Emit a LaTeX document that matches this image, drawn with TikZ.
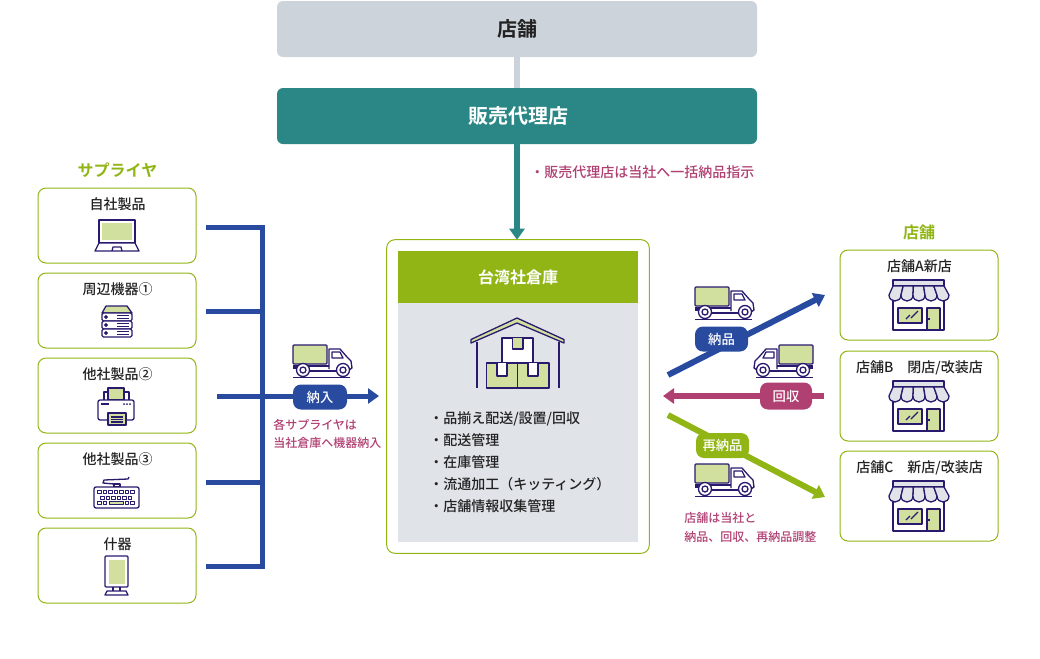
\documentclass[tikz,border=0pt]{standalone}
\usepackage{fontspec}
\setmainfont{Noto Sans CJK JP Medium}[BoldFont={Noto Sans CJK JP Bold}]
\usetikzlibrary{arrows.meta}
\def\px{0.75pt}
\definecolor{shopgray}{HTML}{CDD3DB}
\definecolor{dealerteal}{HTML}{2A8785}
\definecolor{leafgreen}{HTML}{90B514}
\definecolor{palegray}{HTML}{E0E4E9}
\definecolor{barblue}{HTML}{284BA0}
\definecolor{backred}{HTML}{B03F72}
\definecolor{iconnavy}{HTML}{2A1A6E}
\definecolor{iconfill}{HTML}{D2E09F}
\definecolor{inktext}{HTML}{222222}
\tikzstyle{wide}=[rectangle,rounded corners=6*\px,minimum width=480*\px,minimum height=56*\px,inner sep=0pt,font=\bfseries\fontsize{15}{18}\selectfont]
\tikzstyle{itembox}=[rectangle,draw=leafgreen,line width=1*\px,rounded corners=8*\px,minimum width=158*\px,inner sep=0pt]
\tikzstyle{boxlabel}=[inner sep=0pt,text=inktext,text height=8.75pt,text depth=1.25pt,font=\fontsize{10.5}{12}\selectfont]
\tikzstyle{grouplabel}=[inner sep=0pt,text=leafgreen,font=\bfseries\fontsize{12}{14}\selectfont]
\tikzstyle{note}=[inner sep=0pt,anchor=west,text=backred,text height=8.75pt,text depth=1.25pt,font=\fontsize{9}{11}\selectfont]
\tikzstyle{listline}=[inner sep=0pt,anchor=west,text=inktext,text height=8.75pt,text depth=1.25pt,font=\fontsize{10.5}{12}\selectfont]
\tikzstyle{pill}=[rectangle,rounded corners=8*\px,minimum height=25*\px,inner sep=0pt,text=white,font=\fontsize{10}{12}\selectfont]
\tikzstyle{bar}=[draw,line width=5*\px]
\tikzstyle{edge}=[draw,line width=6*\px,-{Triangle[length=11*\px,width=15*\px]}]
\tikzstyle{icon}=[draw=iconnavy,line width=1.3*\px,line join=round]
\tikzset{
  truckicon/.pic={
    \draw[icon,fill=iconfill,rounded corners=1*\px] (0,0) rectangle (34,19);
    \draw[icon,fill=white] (36,24) -- (36,4) -- (47,4) -- (54,12) -- (58,16) -- (59,23) -- (56,25);
    \draw[icon] (39,7) -- (47,7) -- (50,13) -- (39,13) -- cycle;
    \draw[icon] (0,23) -- (4,23) (16,26) -- (44,26) (36,21) -- (0,21);
    \foreach \wx in {10,50} {
      \draw[icon,fill=white] (\wx,25) circle [radius=6.5];
      \draw[icon,fill=white] (\wx,25) circle [radius=3];
    }
    \draw[icon] (0,32.5) -- (57,32.5);
  },
  shopicon/.pic={
    \draw[icon,fill=white] (4,16) rectangle (55,50);
    \draw[icon,fill=palegray] (4,0) rectangle (55,6);
    \foreach \ia/\ib/\ba/\bb in {4/14.2/0/12,14.2/24.4/12/24,24.4/34.6/24/36,34.6/44.8/36/48,44.8/55/48/60} {
      \draw[icon,fill=palegray] (\ia,6) -- (\ba,15) .. controls (\ba,23) and (\bb,23) .. (\bb,15) -- (\ib,6) -- cycle;
    }
    \draw[icon,fill=iconfill] (9,28) rectangle (33,43);
    \draw[icon] (17,39) -- (21,35) (22,38) -- (29,31);
    \draw[icon,fill=iconfill] (38,28) rectangle (51,50);
    \draw[icon] (38,39) -- (41,39);
  },
  laptopicon/.pic={
    \draw[icon,fill=white] (4,0) rectangle (40,23);
    \fill[iconfill] (7,3) rectangle (37,20);
    \draw[icon,fill=white] (4,23) -- (0,31) -- (44,31) -- (40,23) -- cycle;
    \draw[icon] (17,31) -- (18,27) -- (26,27) -- (27,31);
  },
  servericon/.pic={
    \draw[icon,fill=iconfill] (4,0) -- (25,0) -- (30,7) -- (0,7) -- cycle;
    \foreach \sy in {7,15,23} {
      \draw[icon,fill=white,rounded corners=1.5*\px] (0,\sy) rectangle (30,\sy+8);
      \draw[icon] (4,\sy+4) circle [radius=1.3];
      \draw[icon] (15,\sy+2.5) -- (27,\sy+2.5) (15,\sy+5.5) -- (27,\sy+5.5);
    }
  },
  printericon/.pic={
    \draw[icon,fill=white] (6,4) rectangle (31,14);
    \draw[icon,fill=iconfill] (10,0) rectangle (26,12);
    \draw[icon,fill=white,rounded corners=2*\px] (0,12) rectangle (36,32);
    \draw[icon] (3,16) -- (11,16);
    \foreach \dx in {26,29,32} \fill[iconnavy] (\dx,16) circle [radius=1];
    \draw[icon,fill=iconfill] (10,25) rectangle (28,37);
    \draw[icon] (13,29) -- (25,29) (13,31.5) -- (25,31.5) (13,34) -- (25,34);
  },
  keyboardicon/.pic={
    \draw[icon] (35,0) -- (34,2) -- (10,3) -- (9,6) -- (20,7);
    \draw[icon,fill=white] (20,7) rectangle (26,10);
    \draw[icon,fill=white,rounded corners=2*\px] (0,10) rectangle (45,31);
    \foreach \kx in {3.5,9,14.5,20,25.5,31,36.5} \draw[icon,line width=1*\px] (\kx,13.5) rectangle +(3.5,3);
    \foreach \kx in {6.5,12,17.5,23,28.5,34} \draw[icon,line width=1*\px] (\kx,19) rectangle +(3.5,3);
    \foreach \kx in {3.5,9,31,36.5} \draw[icon,line width=1*\px] (\kx,24.5) rectangle +(3.5,3);
    \draw[icon,line width=1*\px,fill=iconfill] (15,24.5) rectangle (29.5,27.5);
  },
  displayicon/.pic={
    \draw[icon,fill=white,rounded corners=1*\px] (3,0) rectangle (26,31);
    \fill[iconfill] (6.5,3.5) rectangle (22.5,28);
    \draw[icon] (11,31) -- (11,35) (18,31) -- (18,35);
    \draw[icon,fill=white] (3,39) -- (5,35) -- (24,35) -- (26,39) -- cycle;
  },
  depoticon/.pic={
    \draw[icon,fill=iconfill] (0,21.5) -- (46,0) -- (93,21.5) -- (93,25) -- (46,5) -- (0,25) -- cycle;
    \draw[icon] (6,24) -- (6,70) (88,24) -- (88,70);
    \draw[icon,fill=white] (31,20) rectangle (62,45);
    \draw[icon,fill=iconfill] (15.5,45) rectangle (46.5,70);
    \draw[icon,fill=iconfill] (46.5,45) rectangle (78,70);
    \draw[icon,fill=iconfill] (41.5,20) -- (41.5,31) -- (52,31) -- (52,20);
    \draw[icon,fill=white] (26,45) -- (26,58) -- (36,58) -- (36,45);
    \draw[icon,fill=white] (57,45) -- (57,58) -- (67,58) -- (67,45);
  }
}
\begin{document}
\begin{tikzpicture}[x=0.75pt,y=-0.75pt]
    \useasboundingbox (0,0) rectangle (1040,658);

    % top row
    \node[wide,fill=shopgray,text=inktext] (shopTop) at (517,29) {\raisebox{-0.75pt}{店舗}};
    \node[wide,fill=dealerteal,text=white] (dealer) at (517,116) {\raisebox{-0.75pt}{\hspace{1.5pt}販売代理店}};
    \node[inner sep=0pt,minimum width=262*\px,minimum height=313*\px] (depot) at (518,396.5) {};
    \path[draw,line width=6*\px,shopgray] (shopTop.south) -- (dealer.north);
    \path[edge,dealerteal] (dealer.south) -- (dealer.south |- depot.north);
    \node[note,font=\fontsize{10.5}{12}\selectfont] (dealerNote) at (530,172.5) {・販売代理店は当社へ一括納品指示};

    % warehouse
    \draw[draw=leafgreen,line width=1*\px,rounded corners=8*\px] (depot.north west) rectangle (depot.south east);
    \node[inner sep=0pt,fill=palegray,minimum width=240*\px,minimum height=291*\px] (depotBody) at (518,396.5) {};
    \node[inner sep=0pt,fill=leafgreen,minimum width=240*\px,minimum height=52*\px,text=white,font=\bfseries\fontsize{12}{14}\selectfont] (depotHead) at (518,277) {台湾社倉庫};
    \pic at (471,318) {depoticon};
    \foreach \ypos/\name/\txt in {418/listA/{・品揃え配送/設置/回収}, 440/listB/・配送管理, 462/listC/・在庫管理, 484/listD/・流通加工（キッティング）, 506/listE/・店舗情報収集管理}
        \node[listline] (\name) at (429,\ypos) {\txt};

    % suppliers
    \node[grouplabel] (supTitle) at (117.5,170.5) {サプライヤ};
    \foreach \ypos/\name/\txt in {225.5/supA/自社製品, 310.5/supB/周辺機器①, 395.5/supC/他社製品②, 480.5/supD/他社製品③, 565.5/supE/什器} {
        \node[itembox,minimum height=75*\px] (\name) at (117,\ypos) {};
        \node[boxlabel] (\name Label) at (117.5,\ypos-21.5) {\txt};
    }
    \pic at (95,220) {laptopicon};
    \pic at (102,306) {servericon};
    \pic at (98,388) {printericon};
    \pic at (94,477) {keyboardicon};
    \pic at (102,556) {displayicon};

    % supplier bus
    \coordinate (busTop) at (262,225);
    \coordinate (busBottom) at (262,568.5);
    \foreach \ypos/\name in {227/busA, 311/busB, 482/busD, 566/busE} {
        \coordinate (\name) at (206,\ypos);
        \path[bar,barblue] (\name) -- (262,\ypos);
    }
    \path[bar,barblue] (busTop) -- (busBottom);
    \coordinate (inStart) at (217,396);
    \coordinate (inEnd) at (379,396);
    \path[edge,barblue,line width=5*\px] (inStart) -- (inEnd);
    \node[pill,fill=barblue,minimum width=54*\px] (inPill) at (320,397) {納入};
    \pic at (293,345) {truckicon};
    \node[note] (inNoteA) at (273,424) {各サプライヤは};
    \node[note] (inNoteB) at (273,442.5) {当社倉庫へ機器納入};

    % stores
    \node[grouplabel] (storeTitle) at (919,232) {店舗};
    \foreach \ypos/\name/\txt in {295/storeA/店舗A新店, 396/storeB/{店舗B　閉店/改装店}, 496/storeC/{店舗C　新店/改装店}} {
        \node[itembox,minimum height=90*\px] (\name) at (919,\ypos) {};
        \node[boxlabel] (\name Label) at (919.5,\ypos-29) {\txt};
        \pic at (889,\ypos-15) {shopicon};
    }

    % deliveries
    \coordinate (outStart) at (668,375);
    \coordinate (outEnd) at (825,295);
    \coordinate (backStart) at (824,396);
    \coordinate (backEnd) at (663,396);
    \coordinate (againStart) at (668,415);
    \coordinate (againEnd) at (825,497);
    \path[edge,barblue] (outStart) -- (outEnd);
    \path[edge,backred] (backStart) -- (backEnd);
    \path[edge,leafgreen] (againStart) -- (againEnd);
    \node[pill,fill=barblue,minimum width=53*\px] (outPill) at (721.5,339) {納品};
    \node[pill,fill=backred,minimum width=52*\px,minimum height=27*\px] (backPill) at (786,396) {回収};
    \node[pill,fill=leafgreen,minimum width=53*\px] (againPill) at (722.5,445.5) {再納品};
    \pic at (695,287) {truckicon};
    \pic[xscale=-1] at (813,345) {truckicon};
    \pic at (695,464) {truckicon};
    \node[note] (storeNoteA) at (684,517) {店舗は当社と};
    \node[note] (storeNoteB) at (684,536) {納品、回収、再納品調整};
\end{tikzpicture}
\end{document}
